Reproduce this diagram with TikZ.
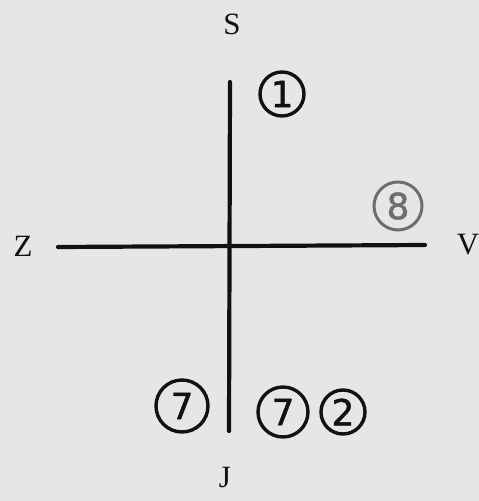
\documentclass[tikz,border=0pt]{standalone}
\usepackage{fontspec}
\setmainfont{Liberation Serif}
\newfontfamily\handfont[FakeBold=1.2]{DejaVu Sans}
\usetikzlibrary{positioning}
\definecolor{paper}{HTML}{E6E6E6}
\definecolor{ink}{HTML}{111111}
\definecolor{pencil}{HTML}{6E6E6E}

\begin{document}
\begin{tikzpicture}[
    x=1pt, y=-1pt,
    axis/.style={line width=4.2pt, color=ink, line cap=round},
    pole/.style={text=ink, inner sep=0pt, font=\fontsize{31}{34}\selectfont},
    num/.style={circle, draw=ink, line width=3.4pt, inner sep=0pt, text=ink,
                minimum size=44pt, font=\handfont\fontsize{36}{38}\selectfont},
    faint/.style={num, draw=pencil, text=pencil, line width=3pt}
]
    \fill[paper] (0,0) rectangle (479,501);
    \useasboundingbox (0,0) rectangle (479,501);

    % axes
    \coordinate (north) at (230,82);
    \coordinate (south) at (229,431);
    \coordinate (west) at (58,247);
    \coordinate (east) at (425,245);
    \draw[axis] (north) -- (south);
    \draw[axis] (west) -- (east);

    % cardinal points
    \node[pole] (S) at (232,24) {S};
    \node[pole] (J) at (225,477) {J};
    \node[pole] (Z) at (23,246) {Z};
    \node[pole] (V) at (468,245) {V};

    % circled numbers
    \node[num] (one) at (282,94) {1};
    \node[faint, minimum size=48pt] (eight) at (398,206) {8};
    \node[num, minimum size=52pt] (sevenL) at (182,406) {7};
    \node[num, minimum size=50pt] (sevenR) at (283,412) {7};
    \node[num] (two) at (343,412) {2};
\end{tikzpicture}
\end{document}
